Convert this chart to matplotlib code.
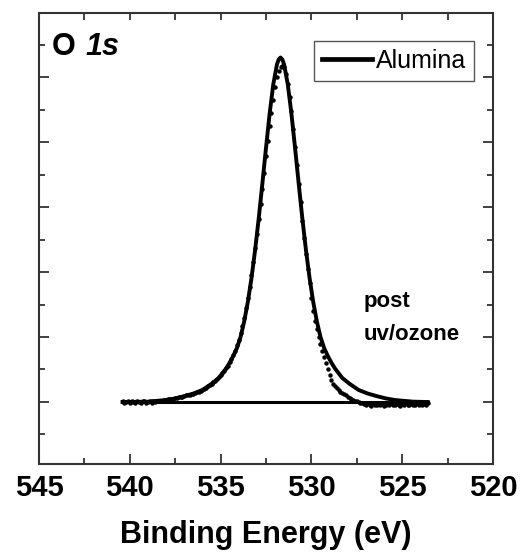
import numpy as np
import matplotlib
matplotlib.use('Agg')
import matplotlib.pyplot as plt
from matplotlib.ticker import MultipleLocator

plt.rcParams['font.family'] = ['Liberation Sans', 'DejaVu Sans']

# O 1s spectrum, 0.1 eV steps from 540.4 down to 523.6 eV (arb. units)
be_first = 540.4
be_last = 523.6
counts = [1.01, 0.99, 1.00, 1.02, 0.98, 1.01, 1.00, 0.99, 1.02, 1.00,
          0.98, 1.01, 1.01, 0.99, 1.00, 1.02, 0.99, 1.01, 1.00, 1.02,
          1.01, 1.02,
          1.02, 1.03, 1.03, 1.04, 1.04, 1.05, 1.05, 1.06, 1.06, 1.07,
          1.08, 1.08, 1.09, 1.10, 1.10, 1.11, 1.12, 1.13, 1.14, 1.15,
          1.16, 1.17, 1.19, 1.20, 1.22, 1.24, 1.26, 1.28, 1.30, 1.33,
          1.35, 1.38, 1.41, 1.45, 1.48, 1.52, 1.56, 1.61, 1.66, 1.72,
          1.79, 1.87, 1.96, 2.06, 2.17, 2.30, 2.44, 2.60, 2.77, 2.96,
          3.16, 3.37, 3.59, 3.81, 4.04, 4.28, 4.53, 4.78, 5.02, 5.25,
          5.45, 5.65, 5.85, 6.00, 6.10,
          6.15,
          6.17, 6.15, 6.05, 5.90, 5.70, 5.47, 5.20, 4.93, 4.65, 4.36,
          4.07, 3.79, 3.52, 3.27, 3.05, 2.83, 2.60, 2.40, 2.24, 2.12,
          2.00, 1.89, 1.79, 1.69, 1.60, 1.51, 1.42, 1.34, 1.28, 1.24,
          1.21, 1.19, 1.16, 1.14, 1.12, 1.10, 1.08, 1.06, 1.045, 1.03,
          1.02, 1.01, 1.00, 0.99, 0.98,
          0.97, 0.95, 0.98, 0.96, 0.94, 0.97, 0.95, 0.96, 0.98, 0.95,
          0.97, 0.94, 0.96, 0.97, 0.95, 0.98, 0.96, 0.95, 0.97, 0.96,
          0.94, 0.97, 0.96, 0.98, 0.95, 0.96, 0.97, 0.95, 0.96, 0.98,
          0.96, 0.97, 0.95, 0.97, 0.96, 0.98]
be = np.linspace(be_first, be_last, len(counts))

# fitted envelope (Alumina component + background)
fit_be = [540.4, 539.0, 538.0, 537.5, 537.0, 536.5, 536.0, 535.5, 535.1, 534.7,
          534.5, 534.3, 534.1, 533.9, 533.7, 533.5, 533.3, 533.1, 532.9, 532.7,
          532.5, 532.3, 532.1, 531.9, 531.8, 531.7, 531.6, 531.5, 531.3, 531.1,
          530.9, 530.7, 530.5, 530.3, 530.1, 529.9, 529.7, 529.5, 529.3, 529.1,
          528.9, 528.7, 528.3, 527.9, 527.4, 526.9, 526.4, 525.9, 525.4, 524.4,
          523.6]
fit_int = [1.00, 1.005, 1.03, 1.055, 1.09, 1.13, 1.185, 1.28, 1.37, 1.515,
           1.605, 1.71, 1.83, 2.00, 2.24, 2.54, 2.906, 3.338, 3.827, 4.36,
           4.91, 5.437, 5.885, 6.19, 6.27, 6.30, 6.27, 6.19, 5.885, 5.437,
           4.91, 4.36, 3.827, 3.338, 2.906, 2.54, 2.24, 2.00, 1.83, 1.71,
           1.605, 1.515, 1.37, 1.28, 1.185, 1.13, 1.09, 1.055, 1.03, 1.005,
           1.00]

bg_be = [540.4, 523.6]
bg_int = [1.00, 1.00]

fig = plt.figure(figsize=(5.26, 5.57), dpi=100)
ax = fig.add_axes([39/526, 93/557, 454/526, 451/557])

ax.plot(bg_be, bg_int, color='black', lw=2.2)
ax.plot(be, counts, 'o', color='black', ms=3.2, mew=0)
ax.plot(fit_be, fit_int, color='black', lw=2.8, label='Alumina')

ax.set_xlim(545, 520)
ax.set_ylim(0.046, 6.985)
ax.xaxis.set_major_locator(MultipleLocator(5))
ax.xaxis.set_minor_locator(MultipleLocator(2.5))
ax.yaxis.set_major_locator(MultipleLocator(1))
ax.yaxis.set_minor_locator(MultipleLocator(0.5))
ax.set_yticklabels([])

spine_col = '#333333'
for s in ax.spines.values():
    s.set_color(spine_col)
    s.set_linewidth(1.5)
ax.tick_params(which='both', direction='in', color=spine_col, width=1.3,
               left=True, right=True, top=False)
ax.tick_params(which='major', length=7)
ax.tick_params(which='minor', length=4)
ax.tick_params(axis='x', which='major', labelsize=21, pad=7.5)
for lab in ax.get_xticklabels():
    lab.set_fontweight('bold')

# top axis: all ticks same short length
top = ax.secondary_xaxis('top')
top.xaxis.set_major_locator(MultipleLocator(2.5))
top.tick_params(direction='in', length=5, width=1.3, color=spine_col, labeltop=False)
top.spines['top'].set_visible(False)

ax.set_xlabel('Binding Energy (eV)', fontsize=22, fontweight='bold', labelpad=12.5)

t1 = ax.text(0.0286, 0.907, 'O', transform=ax.transAxes, fontsize=22,
             fontweight='bold', va='baseline', ha='left')
ax.annotate('1s', xy=(1, 0), xycoords=t1, xytext=(7, 0), textcoords='offset points',
            fontsize=22, fontweight='bold', fontstyle='italic', va='bottom', ha='left')

ax.text(0.714, 0.348, 'post', transform=ax.transAxes, fontsize=16,
        fontweight='bold', va='baseline', ha='left')
ax.text(0.714, 0.275, 'uv/ozone', transform=ax.transAxes, fontsize=16,
        fontweight='bold', va='baseline', ha='left')

leg = ax.legend(loc='upper right', bbox_to_anchor=(0.958, 0.938), borderaxespad=0,
                fontsize=18, fancybox=False, handlelength=2.0, handletextpad=0.15,
                borderpad=0.32, framealpha=1)
leg.get_frame().set_edgecolor('#555555')
leg.get_frame().set_linewidth(1.0)
leg.get_lines()[0].set_linewidth(3.4)

fig.savefig('out.png', dpi=100)
